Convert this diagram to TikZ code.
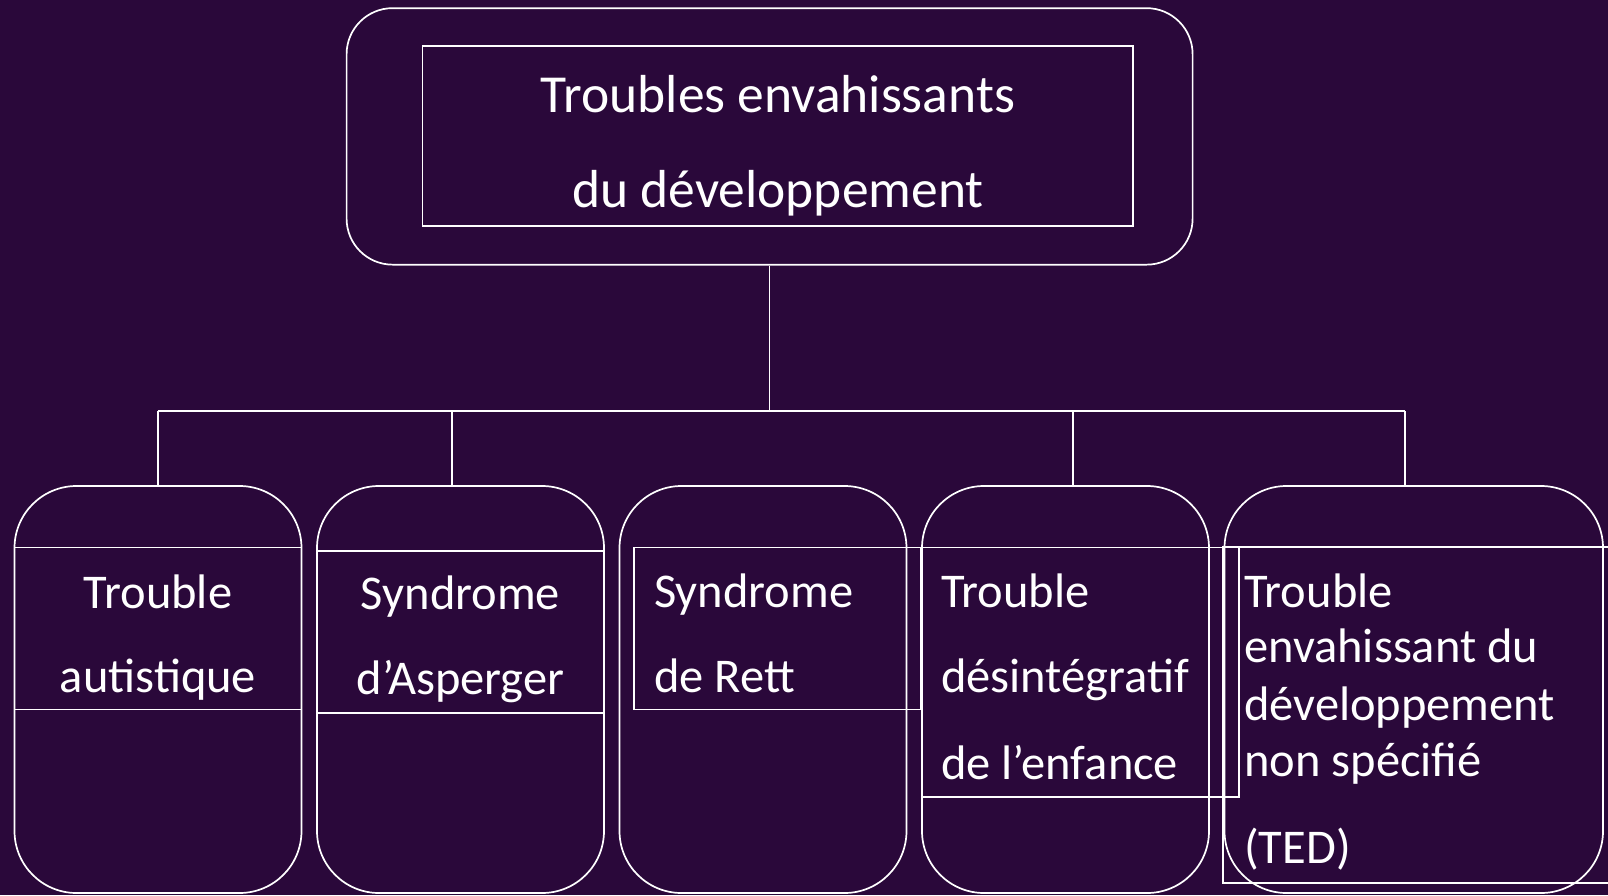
\documentclass[tikz,border=0pt]{standalone}
\usepackage{fontspec}
\setmainfont{Carlito}
\begin{document}
\begin{tikzpicture}[x=1pt,y=-1pt,
  line/.style={draw=white,line width=1.7pt},
  roundbox/.style={line,rectangle,inner sep=0pt,rounded corners=#1},
  framebox/.style={line,rectangle,inner sep=0pt},
  label/.style={text=white,inner sep=0pt,font=\fontsize{48.5}{58}\selectfont},
  toplabel/.style={text=white,inner sep=0pt,font=\fontsize{53.5}{62}\selectfont}]
\definecolor{bgpurple}{RGB}{42,8,58}
\useasboundingbox (0,0) rectangle (1608,895);
\clip (0,0) rectangle (1608,895);
\fill[bgpurple] (0,0) rectangle (1608,895);

% root of the tree
\node[roundbox=46pt,minimum width=846pt,minimum height=256.5pt] (top) at (769.6,136.4) {};
\node[framebox,minimum width=710.7pt,minimum height=179.5pt] (topframe) at (777.9,135.9) {};
\node[toplabel,anchor=base] (t1) at (778,112) {Troubles envahissants};
\node[toplabel,anchor=base] (t2) at (778,207) {du développement};

% the five branches
\foreach \name/\cx/\w in {b1/158/287,b2/460.5/287,b3/763/287,b4/1065.5/287,b5/1413.75/378.5}
  \node[roundbox=62pt,minimum width=\w pt,minimum height=407pt] (\name) at (\cx,689.5) {};

% text frames inside the branches
\node[framebox,minimum width=287pt,minimum height=162pt] (f1) at (158,628.6) {};
\node[framebox,minimum width=287pt,minimum height=162pt] (f2) at (460.5,631.7) {};
\node[framebox,minimum width=287.2pt,minimum height=162pt] (f3) at (777.4,628.6) {};
\node[framebox,minimum width=317pt,minimum height=249.2pt] (f4) at (1080.5,672.2) {};
\node[framebox,minimum width=402pt,minimum height=336pt] (f5) at (1424,715) {};

% branch texts
\node[label,anchor=base] (l11) at (158,608) {Trouble};
\node[label,anchor=base] (l12) at (158,692) {autistique};
\node[label,anchor=base] (l21) at (460.5,609) {Syndrome};
\node[label,anchor=base] (l22) at (460.5,694) {d’Asperger};
\node[label,anchor=base west] (l31) at (654,607) {Syndrome};
\node[label,anchor=base west] (l32) at (654,692) {de Rett};
\node[label,anchor=base west] (l41) at (941,607) {Trouble};
\node[label,anchor=base west] (l42) at (941,692) {désintégratif};
\node[label,anchor=base west] (l43) at (941,779) {de l’enfance};
\node[label,anchor=base west] (l51) at (1244,607) {Trouble};
\node[label,anchor=base west] (l52) at (1244,662) {envahissant du};
\node[label,anchor=base west] (l53) at (1244,720) {développement};
\node[label,anchor=base west] (l54) at (1244,776) {non spécifié};
\node[label,anchor=base west] (l55) at (1244,863) {(TED)};

% connectors
\coordinate (hub) at (769.6,411);
\coordinate (busL) at (158,411);
\coordinate (busR) at (1405,411);
\coordinate (d2) at (452,411);
\coordinate (d4) at (1073,411);
\draw[line] (top.south) -- (hub);
\draw[line] (busL) -- (busR);
\draw[line] (busL) -- (b1.north);
\draw[line] (d2) -- (d2 |- b2.north);
\draw[line] (d4) -- (d4 |- b4.north);
\draw[line] (busR) -- (busR |- b5.north);
\end{tikzpicture}
\end{document}
